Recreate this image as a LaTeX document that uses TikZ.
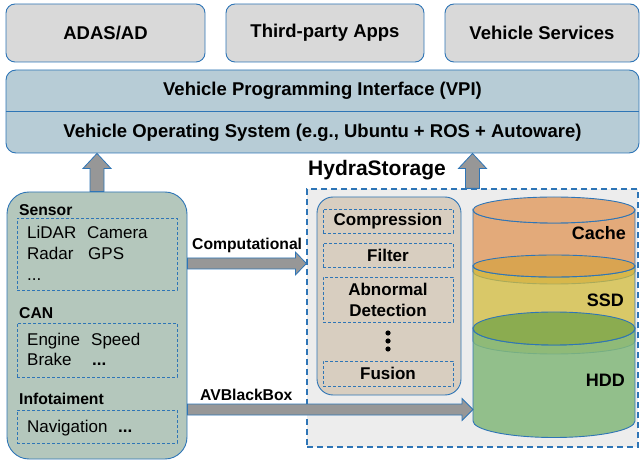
\documentclass[tikz,border=0pt]{standalone}
\usepackage{fontspec}
\setmainfont{Liberation Sans}
\usetikzlibrary{calc}
\definecolor{lineblue}{HTML}{2E75B6}
\definecolor{appgray}{HTML}{D9D9D9}
\definecolor{vpiblue}{HTML}{B7CCD6}
\definecolor{sensgreen}{HTML}{B4C7BC}
\definecolor{procbeige}{HTML}{D8CEC0}
\definecolor{hydragray}{HTML}{EDEDED}
\definecolor{arrowgray}{HTML}{979797}
\definecolor{cacheorange}{HTML}{E3AA7A}
\definecolor{ssdyellow}{HTML}{D3BC3C}
\definecolor{ssdtop}{HTML}{D6A244}
\definecolor{hddgreen}{HTML}{83B87B}
\definecolor{hddtop}{HTML}{7EA84C}

\begin{document}
\begin{tikzpicture}[x=1pt, y=-1pt,
  appbox/.style={draw=lineblue, line width=0.9pt, fill=appgray, rounded corners=9pt,
    minimum height=58pt, inner sep=0pt, font=\fontsize{18.5}{22}\selectfont\bfseries},
  subbox/.style={draw=lineblue, dashed, dash pattern=on 3pt off 2pt, line width=0.8pt, inner sep=0pt},
  procitem/.style={subbox, minimum width=130pt, align=center, font=\fontsize{17}{21}\selectfont\bfseries},
  item/.style={anchor=base west, inner sep=0pt, font=\fontsize{17}{20}\selectfont},
  grouplabel/.style={anchor=base west, inner sep=0pt, font=\fontsize{15.7}{18}\selectfont\bfseries},
  drumlabel/.style={anchor=east, inner sep=0pt, font=\fontsize{18}{21}\selectfont\bfseries},
  blockarrow/.style={draw=lineblue, line width=0.8pt, fill=arrowgray, line join=miter},
  drum/.style={draw=lineblue, line width=0.9pt}]

\useasboundingbox (0,0) rectangle (640,462);

% --- Applications ---
\node[appbox, minimum width=199pt] (adas) at (105.5,33) {ADAS/AD};
\node[appbox, minimum width=198pt] (apps) at (325,33) {Third-party Apps};
\node[appbox, minimum width=194pt] (services) at (542,33) {Vehicle Services};

% --- VPI and OS ---
\node[draw=lineblue, line width=0.9pt, fill=vpiblue, rounded corners=10pt,
  minimum width=633pt, minimum height=83pt] (vpi) at (322.5,111.5) {};
\draw[lineblue, line width=0.9pt] (vpi.west) -- (vpi.east);
\node[inner sep=0pt, font=\fontsize{18.5}{22}\selectfont\bfseries] (vpitext) at (322.5,91) {Vehicle Programming Interface (VPI)};
\node[inner sep=0pt, font=\fontsize{18.5}{22}\selectfont\bfseries] (ostext) at (322.5,133) {Vehicle Operating System (e.g., Ubuntu + ROS + Autoware)};

% --- HydraStorage frame ---
\node[draw=lineblue, dashed, dash pattern=on 6pt off 4pt, line width=1.2pt, fill=hydragray,
  minimum width=331pt, minimum height=258pt, inner sep=0pt] (hydra) at (472.5,318) {};
\node[anchor=base west, inner sep=0pt, font=\fontsize{21}{25}\selectfont\bfseries] (hydratitle) at (308,176) {HydraStorage};

% --- Data sources ---
\node[draw=lineblue, line width=0.9pt, fill=sensgreen, rounded corners=22pt,
  minimum width=180pt, minimum height=267pt] (sensor) at (97,325.5) {};

\node[grouplabel] (senslabel) at (19,216) {Sensor};
\node[subbox, minimum width=160pt, minimum height=72pt] (sensbox) at (97,254) {};
\node[item] (lidar) at (27,239) {LiDAR};
\node[item] (camera) at (87,239) {Camera};
\node[item] (radar) at (27,260) {Radar};
\node[item] (gps) at (88,260) {GPS};
\node[item] (sensmore) at (27,281) {...};

\node[grouplabel] (canlabel) at (19,319) {CAN};
\node[subbox, minimum width=160pt, minimum height=54pt] (canbox) at (97,350) {};
\node[item] (engine) at (27,345) {Engine};
\node[item] (speed) at (91,345) {Speed};
\node[item] (brake) at (27,366) {Brake};
\node[item, font=\fontsize{17}{20}\selectfont\bfseries] (canmore) at (92,366) {...};

\node[grouplabel] (infolabel) at (19,404) {Infotaiment};
\node[subbox, minimum width=160pt, minimum height=33pt] (infobox) at (97,426.5) {};
\node[item] (navi) at (27,432) {Navigation};
\node[item, font=\fontsize{17}{20}\selectfont\bfseries] (infomore) at (118,432) {...};

% --- Processing ---
\node[draw=lineblue, line width=0.9pt, fill=procbeige, rounded corners=16pt,
  minimum width=144pt, minimum height=198pt] (proc) at (389,296) {};
\node[procitem, minimum height=24pt] (compress) at (388,221) {Compression};
\node[procitem, minimum height=24pt] (filter) at (388,255) {Filter};
\node[procitem, minimum height=45pt] (abnormal) at (388,299.5) {Abnormal\\Detection};
\node[procitem, minimum height=25pt] (fusion) at (388,373.5) {Fusion};
\fill (388,333) circle (2.6pt) (388,341) circle (2.6pt) (388,349) circle (2.6pt);

% --- Storage tiers ---
% Cache
\draw[drum, fill=cacheorange] (473,210) -- (473,271.5)
  arc[start angle=180, end angle=360, x radius=81pt, y radius=12.5pt] -- (635,210)
  arc[start angle=360, end angle=180, x radius=81pt, y radius=13pt] -- cycle;
\draw[drum, fill=cacheorange] (554,210) ellipse[x radius=81pt, y radius=13pt];
% SSD
\draw[drum, fill=ssdyellow, fill opacity=0.75] (473,266) -- (473,341)
  arc[start angle=180, end angle=360, x radius=81pt, y radius=13pt] -- (635,266)
  arc[start angle=360, end angle=180, x radius=81pt, y radius=11pt] -- cycle;
\draw[drum, fill=ssdtop, fill opacity=0.75] (554,266) ellipse[x radius=81pt, y radius=11pt];
% HDD
\draw[drum, fill=hddgreen, fill opacity=0.85] (473,328.5) -- (473,421)
  arc[start angle=180, end angle=360, x radius=81pt, y radius=16.5pt] -- (635,328.5)
  arc[start angle=360, end angle=180, x radius=81pt, y radius=16.5pt] -- cycle;
\draw[drum, fill=hddtop, fill opacity=0.85] (554,328.5) ellipse[x radius=81pt, y radius=16.5pt];
\coordinate (hddside) at (473,380);

\node[drumlabel] (cachelabel) at (626,233) {Cache};
\node[drumlabel] (ssdlabel) at (624,300) {SSD};
\node[drumlabel] (hddlabel) at (625,380) {HDD};

% --- Block arrows ---
\coordinate (lefttip) at (sensor.north |- vpi.south);
\draw[blockarrow] ($(sensor.north)+(-7,0)$) -- ($(lefttip)+(-7,15)$) -- ($(lefttip)+(-14,15)$)
  -- (lefttip) -- ($(lefttip)+(14,15)$) -- ($(lefttip)+(7,15)$) -- ($(sensor.north)+(7,0)$) -- cycle;

\coordinate (righttip) at (hydra.north |- vpi.south);
\draw[blockarrow] ($(hydra.north)+(-7,0)$) -- ($(righttip)+(-7,15)$) -- ($(righttip)+(-14,15)$)
  -- (righttip) -- ($(righttip)+(14,15)$) -- ($(righttip)+(7,15)$) -- ($(hydra.north)+(7,0)$) -- cycle;

\coordinate (comptail) at ($(sensor.east)+(0,-62)$);
\coordinate (comptip) at (hydra.west |- comptail);
\draw[blockarrow] ($(comptail)+(0,-5.5)$) -- ($(comptip)+(-11,-5.5)$) -- ($(comptip)+(-11,-11.5)$)
  -- (comptip) -- ($(comptip)+(-11,11.5)$) -- ($(comptip)+(-11,5.5)$) -- ($(comptail)+(0,5.5)$) -- cycle;
\node[grouplabel] (complabel) at (192,250) {Computational};

\coordinate (boxtail) at ($(sensor.east)+(0,84)$);
\coordinate (boxtip) at (hddside |- boxtail);
\draw[blockarrow] ($(boxtail)+(0,-5.5)$) -- ($(boxtip)+(-11,-5.5)$) -- ($(boxtip)+(-11,-11)$)
  -- (boxtip) -- ($(boxtip)+(-11,11)$) -- ($(boxtip)+(-11,5.5)$) -- ($(boxtail)+(0,5.5)$) -- cycle;
\node[grouplabel] (boxlabel) at (200,400) {AVBlackBox};

\end{tikzpicture}
\end{document}
